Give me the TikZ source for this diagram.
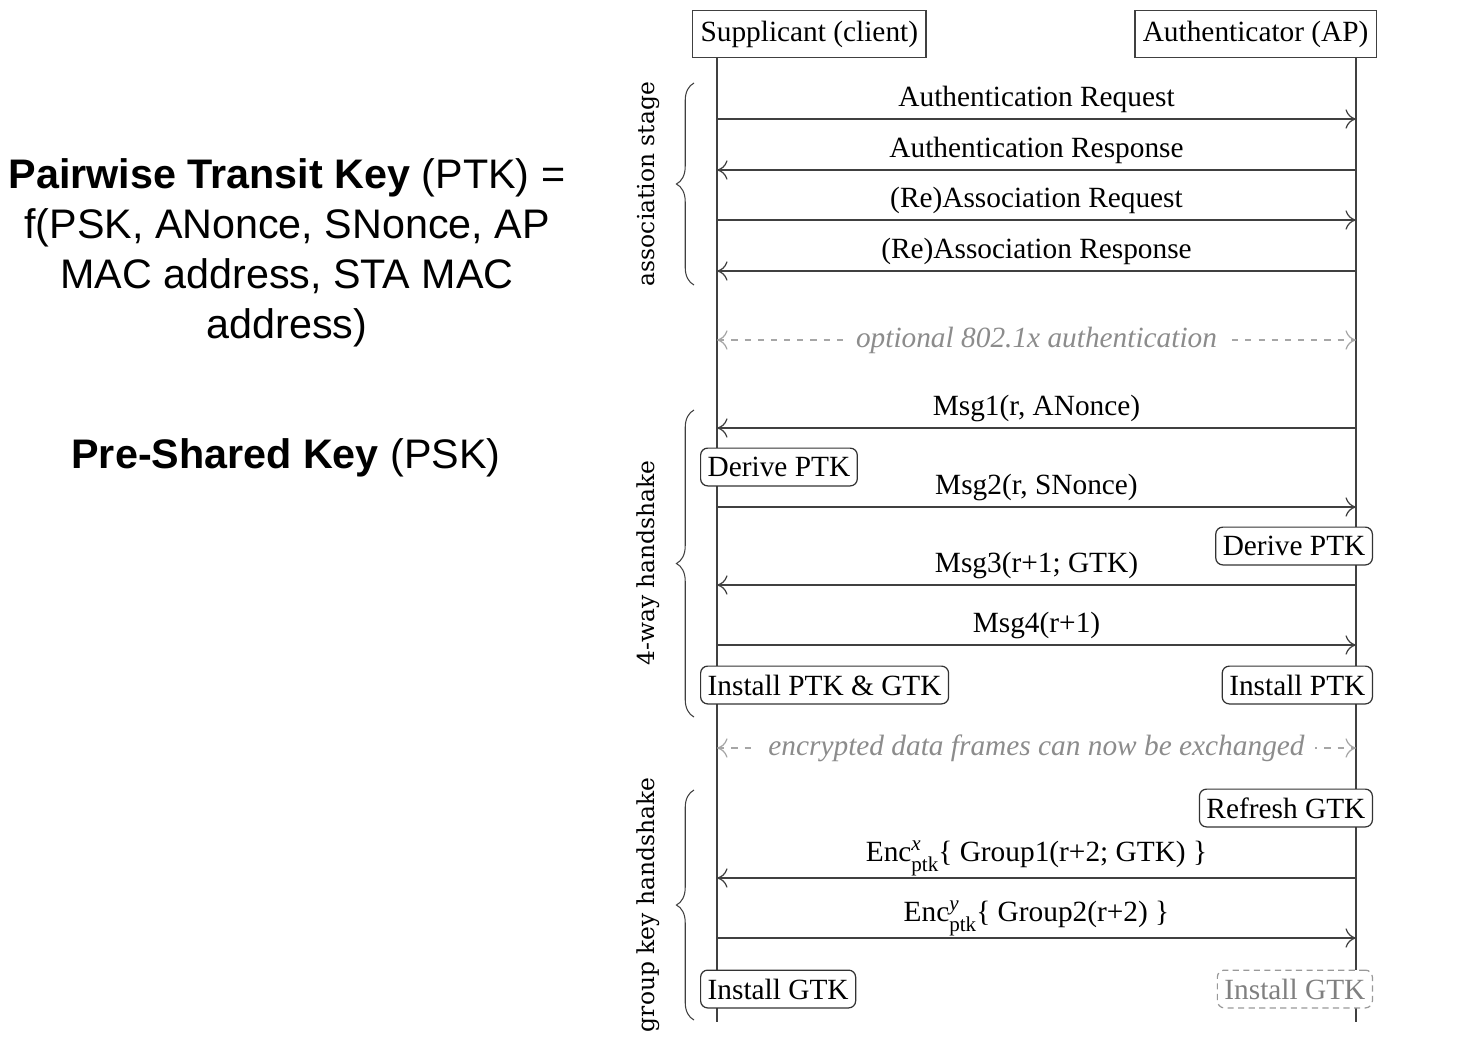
\documentclass[tikz,border=0pt]{standalone}
\usepackage{fontspec}
\setmainfont{Liberation Serif}
\newfontfamily\sansfont{Liberation Sans}
\newfontfamily\bracefont{DejaVu Serif}
\usetikzlibrary{positioning,calc}
\usetikzlibrary{arrows.meta}
\usetikzlibrary{decorations.pathreplacing}
\newcommand{\diagfont}{\fontsize{16.7}{20}\selectfont}
\newcommand{\encptk}[1]{Enc\rlap{\raisebox{6.5pt}{\fontsize{12}{12}\selectfont\itshape #1}}\raisebox{-5.5pt}{\fontsize{12}{12}\selectfont ptk}}
\tikzstyle{arrow} = [line width=0.7pt,draw=black!75,-{To[length=6pt,width=11pt]}]
\tikzstyle{optarrow} = [line width=0.7pt,draw=black!35,dash pattern=on 3.5pt off 4pt,{To[length=6pt,width=11pt]}-{To[length=6pt,width=11pt]}]
\tikzstyle{lifeline} = [line width=0.7pt,draw=black!75]
\tikzstyle{party} = [draw=black!75,line width=0.7pt,minimum height=26.6pt,inner xsep=4.5pt,font=\diagfont]
\tikzstyle{action} = [draw=black!80,rounded corners=4pt,line width=0.7pt,minimum height=21.5pt,inner xsep=4pt,inner ysep=2pt,fill=white,font=\diagfont]
\tikzstyle{msg} = [anchor=base,yshift=7.4pt,inner sep=0pt,font=\diagfont]
\tikzstyle{optmsg} = [fill=white,inner xsep=6pt,text=black!45,font=\diagfont\itshape]
\tikzstyle{stage} = [decorate,decoration={brace,amplitude=10pt},line width=0.6pt,draw=black!75]
\tikzstyle{stagelabel} = [rotate=90,font=\bracefont\fontsize{13.3}{16}\selectfont]
\tikzstyle{keytext} = [align=center,font=\sansfont\fontsize{23.5}{28.4}\selectfont]

\begin{document}
\begin{tikzpicture}[x=0.02cm,y=-0.02cm]
	\useasboundingbox (0,0) rectangle (1460,1036);
	% key definitions
	\node[keytext] (ptk) at (287,253) {\textbf{Pairwise Transit Key} (PTK) =\\f(PSK, ANonce, SNonce, AP\\MAC address, STA MAC\\address)};
	\node[keytext] (psk) at (286,458) {\textbf{Pre-Shared Key} (PSK)};
	% parties and lifelines
	\node[party,anchor=north west] (sup) at (692,10) {Supplicant (client)};
	\node[party,anchor=north east] (auth) at (1377,10) {Authenticator (AP)};
	\coordinate (supEnd) at (717,1022);
	\coordinate (authEnd) at (1356,1022);
	\draw[lifeline] (supEnd |- sup.south) -- (supEnd);
	\draw[lifeline] (authEnd |- auth.south) -- (authEnd);
	\foreach \n/\y in {1/119,2/170,3/220,4/271,5/340,6/428,7/507,8/585,9/645,10/748,11/878,12/938}
		{\coordinate (s\n) at (717,\y); \coordinate (a\n) at (1356,\y);}
	% association stage
	\draw[arrow] (s1) -- node[msg] {Authentication Request} (a1);
	\draw[arrow] (a2) -- node[msg] {Authentication Response} (s2);
	\draw[arrow] (s3) -- node[msg] {(Re)Association Request} (a3);
	\draw[arrow] (a4) -- node[msg] {(Re)Association Response} (s4);
	\draw[optarrow] (s5) -- node[optmsg] {optional 802.1x authentication} (a5);
	% 4-way handshake
	\draw[arrow] (a6) -- node[msg] {Msg1(r, ANonce)} (s6);
	\node[action,anchor=west] (deriveS) at (700,467) {Derive PTK};
	\draw[arrow] (s7) -- node[msg] {Msg2(r, SNonce)} (a7);
	\node[action,anchor=east] (deriveA) at (1373,546) {Derive PTK};
	\draw[arrow] (a8) -- node[msg] {Msg3(r+1; GTK)} (s8);
	\draw[arrow] (s9) -- node[msg] {Msg4(r+1)} (a9);
	\node[action,anchor=west] (installS) at (700,685) {Install PTK \& GTK};
	\node[action,anchor=east] (installA) at (1373,685) {Install PTK};
	\draw[optarrow] (s10) -- node[optmsg] {encrypted data frames can now be exchanged} (a10);
	% group key handshake
	\node[action,anchor=east] (refreshA) at (1373,808) {Refresh GTK};
	\draw[arrow] (a11) -- node[msg,yshift=2pt] {\encptk{x}\{ Group1(r+2; GTK) \}} (s11);
	\draw[arrow] (s12) -- node[msg,yshift=2pt] {\encptk{y}\{ Group2(r+2) \}} (a12);
	\node[action,anchor=west] (gtkS) at (700,989) {Install GTK};
	\node[action,anchor=east,draw=black!40,dash pattern=on 3.5pt off 2.5pt,text=black!50] (gtkA) at (1373,989) {Install GTK};
	% stages
	\coordinate (st1b) at (694,285); \coordinate (st1t) at (694,83);
	\coordinate (st2b) at (694,717); \coordinate (st2t) at (694,410);
	\coordinate (st3b) at (694,1020); \coordinate (st3t) at (694,790);
	\draw[stage] (st1b) -- (st1t);
	\draw[stage] (st2b) -- (st2t);
	\draw[stage] (st3b) -- (st3t);
	\node[stagelabel] (assoc) at (648,184) {association stage};
	\node[stagelabel] (fourway) at (648,563) {4-way handshake};
	\node[stagelabel] (groupkey) at (648,905) {group key handshake};
\end{tikzpicture}
\end{document}
